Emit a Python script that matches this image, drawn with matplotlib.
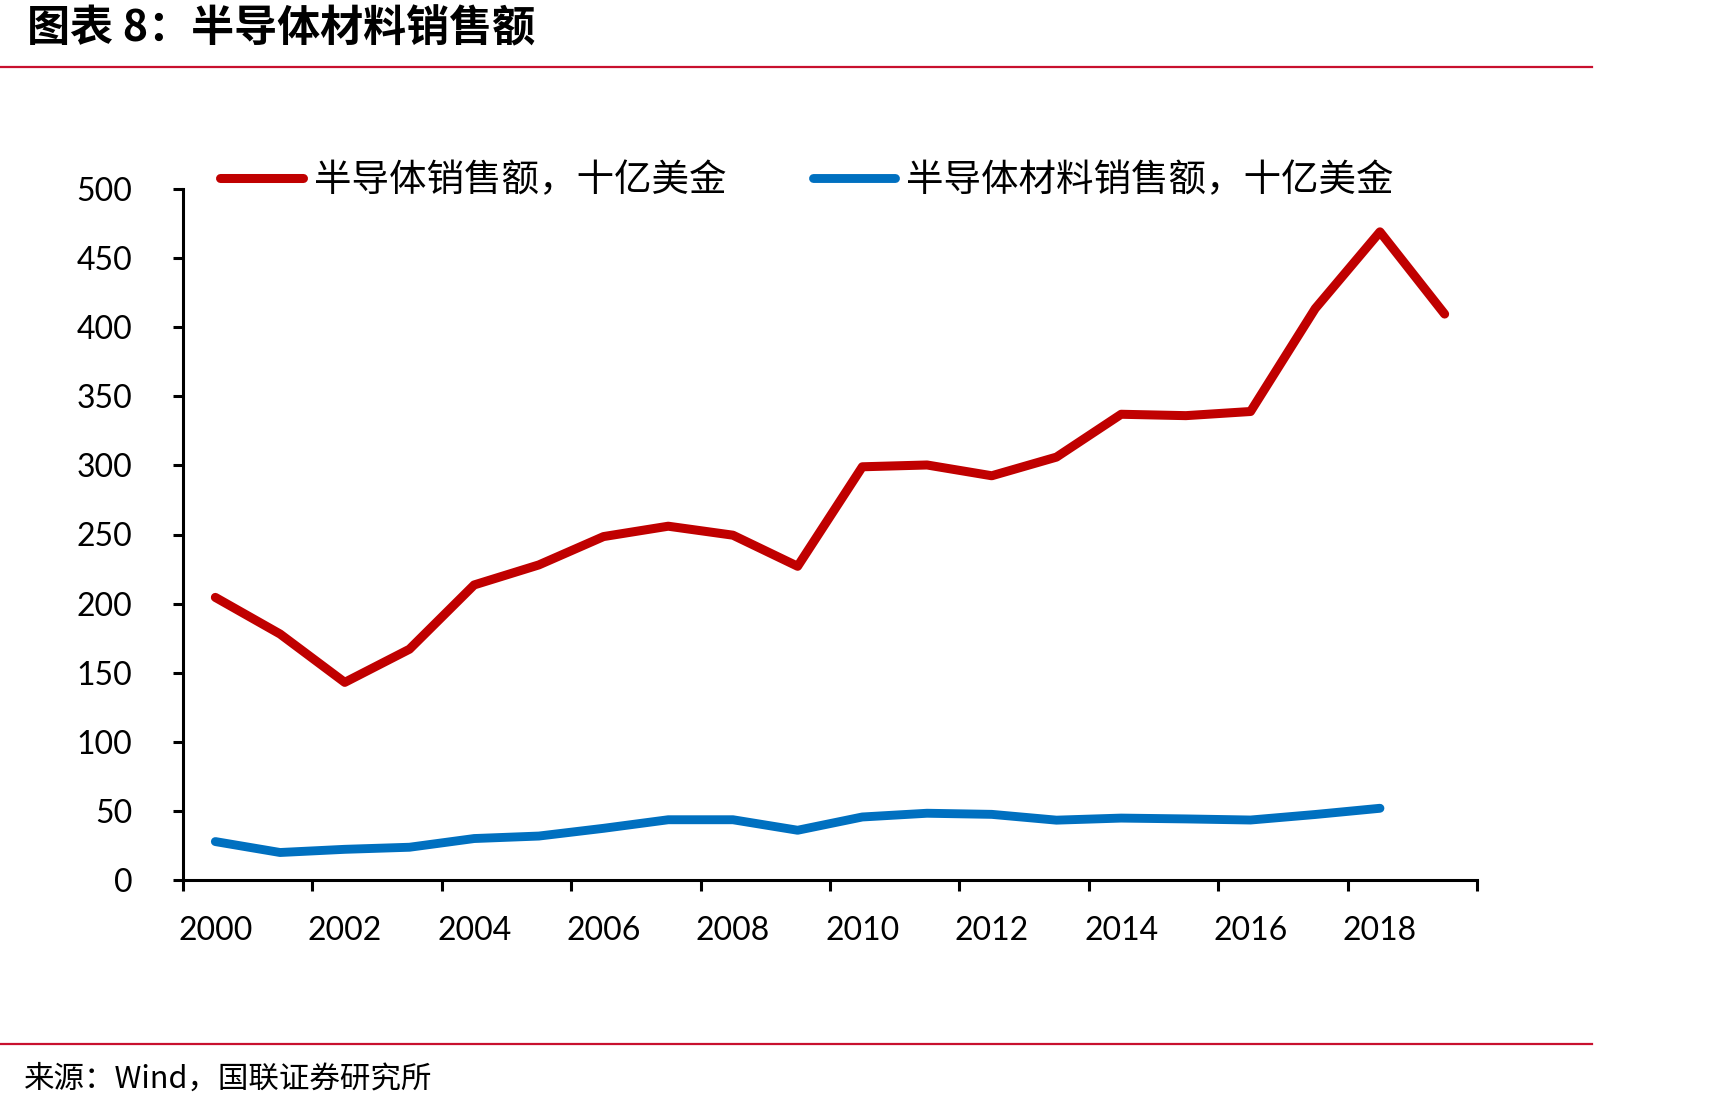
import matplotlib.pyplot as plt
from matplotlib.lines import Line2D

years = [str(y) for y in range(2000, 2020)]
semi_sales = [204.5, 178, 143, 167, 213.5, 228, 248.5, 256, 249.5, 227,
              299, 300.3, 292.5, 306, 337, 336, 339, 413.5, 469, 409.5]
material_sales = [27.8, 19.9, 22.2, 23.7, 30, 31.8, 37.4, 43.6, 43.6, 36,
                  45.6, 48.3, 47.5, 43.3, 44.8, 44.2, 43.4, 47.4, 51.9]
y_ticks = [0, 50, 100, 150, 200, 250, 300, 350, 400, 450, 500]

red = "#C00000"
blue = "#0070C0"
rule_color = "#C8102E"
cjk = ["Noto Sans CJK SC", "DejaVu Sans"]

fig = plt.figure(figsize=(17.25, 11.1), dpi=100)
ax = fig.add_axes([183 / 1725, 230 / 1110, 1294 / 1725, 691 / 1110])

x = list(range(len(years)))
ax.plot(x, semi_sales, color=red, lw=6.5, solid_capstyle="round",
        solid_joinstyle="round", label="半导体销售额，十亿美金")
ax.plot(x[:len(material_sales)], material_sales, color=blue, lw=6.4,
        solid_capstyle="round", solid_joinstyle="round",
        label="半导体材料销售额，十亿美金")

ax.set_xlim(-0.5, len(years) - 0.5)
ax.set_ylim(0, 500)
ax.set_yticks(y_ticks)
ax.set_yticklabels([str(v) for v in y_ticks], fontfamily="Lato", fontsize=23)

# ticks between the categories, labels on every second year
ax.set_xticks([i - 0.5 for i in range(0, len(years) + 1, 2)])
ax.set_xticklabels([])
ax.set_xticks(x[::2], minor=True)
ax.set_xticklabels(years[::2], minor=True, fontfamily="Lato", fontsize=23)
ax.tick_params(axis="x", which="major", length=8, width=2.2, direction="out")
ax.tick_params(axis="x", which="minor", length=0, pad=26)
ax.tick_params(axis="y", length=7.5, width=2.2, pad=29)

for side in ["top", "right"]:
    ax.spines[side].set_visible(False)
for side in ["left", "bottom"]:
    ax.spines[side].set_linewidth(2.2)

ax.legend(loc="center left", bbox_to_anchor=(220 / 1725, 1 - 181 / 1110),
          bbox_transform=fig.transFigure, ncol=2, frameon=False,
          prop={"family": cjk, "size": 27}, handlelength=2.2,
          handletextpad=0.3, columnspacing=2.3, borderpad=0, borderaxespad=0)

# header / footer
fig.text(27 / 1725, 1 - 28 / 1110, "图表 8：半导体材料销售额", family=cjk,
         fontsize=31, fontweight="bold", style="italic", va="center", ha="left")
fig.add_artist(Line2D([0, 1592 / 1725], [1 - 67 / 1110, 1 - 67 / 1110],
                      color=rule_color, lw=1.6, transform=fig.transFigure))
fig.add_artist(Line2D([0, 1592 / 1725], [1 - 1044 / 1110, 1 - 1044 / 1110],
                      color=rule_color, lw=1.6, transform=fig.transFigure))
fig.text(24 / 1725, 1 - 1079 / 1110, "来源：Wind，国联证券研究所", family=cjk,
         fontsize=22, va="center", ha="left")

fig.savefig("out.png", dpi=100)
